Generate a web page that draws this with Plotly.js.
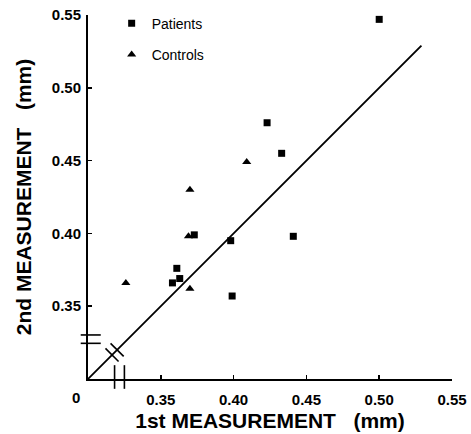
<!DOCTYPE html>
<html>
<head>
<meta charset="utf-8">
<script src="https://cdn.plot.ly/plotly-3.0.1.min.js"></script>
<style>html,body{margin:0;padding:0;background:#fff;}#chart{width:471px;height:434px;}</style>
</head>
<body>
<div id="chart"></div>
<script>
// Patients (squares)
const patientsX = [0.500, 0.423, 0.433, 0.441, 0.398, 0.399, 0.373, 0.361, 0.363, 0.358];
const patientsY = [0.547, 0.476, 0.455, 0.398, 0.395, 0.357, 0.399, 0.376, 0.369, 0.366];
// Controls (triangles)
const controlsX = [0.326, 0.370, 0.369, 0.370, 0.409];
const controlsY = [0.366, 0.430, 0.398, 0.362, 0.449];
// Line of identity
const identityX = [0.30, 0.529];
const identityY = [0.30, 0.529];
// Axis ticks
const tickVals = [0.35, 0.40, 0.45, 0.50, 0.55];
const tickText = ["0.35", "0.40", "0.45", "0.50", "0.55"];

const FONT = "Liberation Sans, Arial, Helvetica, sans-serif";

const traces = [
  {x: identityX, y: identityY, mode: "lines", line: {color: "#000", width: 1.8},
   showlegend: false, hoverinfo: "skip", cliponaxis: false},
  {x: patientsX, y: patientsY, mode: "markers", name: "Patients", legendgroup: "p",
   marker: {symbol: "square", size: 7, color: "#000"}},
  {x: controlsX, y: controlsY, mode: "markers", name: "Controls", legendgroup: "c",
   marker: {symbol: "triangle-up", size: 8, color: "#000"}}
];

function seg(x0, y0, x1, y1) {
  return {type: "line", xref: "paper", yref: "paper", x0: x0, y0: y0, x1: x1, y1: y1,
          line: {color: "#000", width: 1.6}};
}
const d = 0.018;
const shapes = [
  // y-axis break
  seg(-0.020, 0.121, 0.035, 0.121),
  seg(-0.020, 0.098, 0.035, 0.098),
  // x-axis break
  seg(0.073, 0.038, 0.073, -0.027),
  seg(0.100, 0.038, 0.100, -0.027),
  // diagonal break
  seg(0.066 - d, 0.066 + d, 0.066 + d, 0.066 - d),
  seg(0.080 - d, 0.080 + d, 0.080 + d, 0.080 - d)
];

const boldTicks = tickText.map(t => "<b>" + t + "</b>");

const axisCommon = {
  range: [0.30, 0.55], tickvals: tickVals, ticktext: boldTicks,
  ticks: "inside", ticklen: 4, tickwidth: 1.5, tickcolor: "#000",
  showline: true, linecolor: "#000", linewidth: 2, showgrid: false, zeroline: false,
  tickfont: {family: FONT, size: 15, color: "#000"},
  fixedrange: true
};

const layout = {
  width: 471, height: 434,
  margin: {l: 88, r: 19, t: 15, b: 55, autoexpand: false},
  paper_bgcolor: "#fff", plot_bgcolor: "#fff",
  showlegend: true,
  legend: {x: 0.065, y: 1.02, xanchor: "left", yanchor: "top",
           traceorder: "grouped", tracegroupgap: 10,
           font: {family: FONT, size: 14, color: "#000"}, bgcolor: "rgba(0,0,0,0)"},
  xaxis: Object.assign({}, axisCommon, {
    ticklabelstandoff: 6,
    title: {text: "<b>1st MEASUREMENT\u00a0\u00a0\u00a0(mm)</b>", standoff: 6,
            font: {family: FONT, size: 21, color: "#000"}}
  }),
  yaxis: Object.assign({}, axisCommon, {
    ticklabelstandoff: 2,
    title: {text: "<b>2nd MEASUREMENT\u00a0\u00a0\u00a0(mm)</b>", standoff: 14,
            font: {family: FONT, size: 21, color: "#000"}}
  }),
  shapes: shapes,
  annotations: [
    {text: "<b>0</b>", xref: "paper", yref: "paper", x: -0.032, y: -0.05, showarrow: false,
     xanchor: "center", yanchor: "middle",
     font: {family: FONT, size: 15, color: "#000"}}
  ]
};

Plotly.newPlot("chart", traces, layout, {displayModeBar: false, staticPlot: true});
</script>
</body>
</html>
